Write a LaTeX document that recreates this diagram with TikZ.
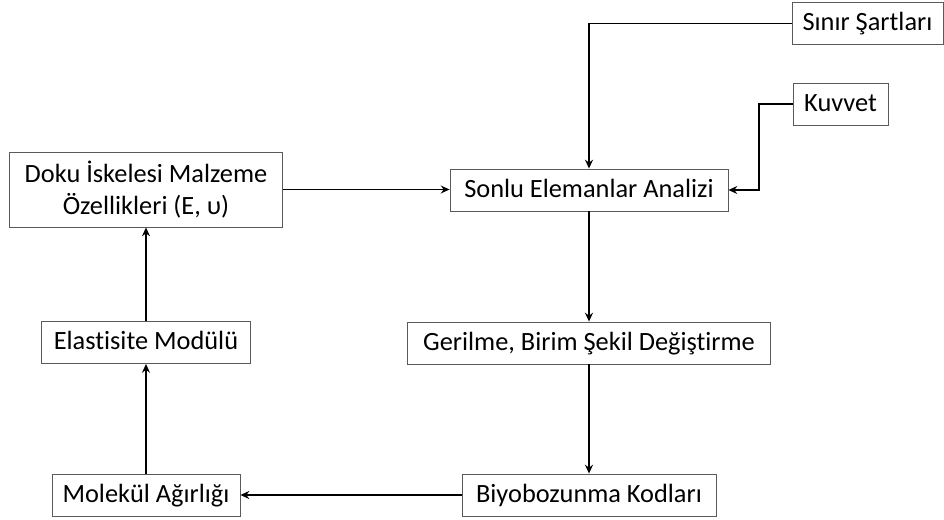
\documentclass[tikz,border=0pt]{standalone}
\usepackage{fontspec}
\setmainfont{Carlito}[Ligatures=NoCommon]
\usepackage{tikz}
\usetikzlibrary{arrows.meta,positioning,calc}
\definecolor{boxgray}{RGB}{90,90,90}

\begin{document}
\begin{tikzpicture}[x=0.02cm, y=-0.02cm,
    kutu/.style={draw=boxgray, line width=0.5pt, fill=white, inner sep=0pt, align=center, font=\fontsize{15}{18}\selectfont},
    tek/.style={kutu, minimum height=0.84cm, text height=11pt, text depth=3pt},
    ok/.style={-{Stealth[length=5pt,width=4.5pt]}, line width=1pt}]
\useasboundingbox (0,0) rectangle (944,520);

% Boxes
\node[kutu, minimum width=5.46cm, minimum height=1.5cm] (doku) at (146,189.5) {Doku İskelesi Malzeme\\Özellikleri (E, υ)};
\node[tek, minimum width=5.56cm] (sonlu) at (589,190) {Sonlu Elemanlar Analizi};
\node[tek, minimum width=3.02cm] (sinir) at (867.5,23.5) {Sınır Şartları};
\node[tek, minimum width=1.9cm] (kuvvet) at (840.5,104) {Kuvvet};
\node[tek, minimum width=4.18cm] (elast) at (146,342.5) {Elastisite Modülü};
\node[tek, minimum width=7.26cm] (gerilme) at (589,343) {Gerilme, Birim Şekil Değiştirme};
\node[tek, minimum width=3.76cm] (molekul) at (146,495) {Molekül Ağırlığı};
\node[tek, minimum width=5.08cm] (biyo) at (589,495) {Biyobozunma Kodları};

% Connectors
\coordinate (kv) at (759,104);
\draw[ok] (sinir.west) -| (sonlu.north);
\draw[ok] (kuvvet.west) -- (kv) |- (sonlu.east);
\draw[ok] (doku.east) -- (doku.east -| sonlu.west);
\draw[ok] (sonlu.south) -- (gerilme.north);
\draw[ok] (gerilme.south) -- (biyo.north);
\draw[ok] (biyo.west) -- (molekul.east);
\draw[ok] (molekul.north) -- (elast.south);
\draw[ok] (elast.north) -- (doku.south);
\end{tikzpicture}
\end{document}
